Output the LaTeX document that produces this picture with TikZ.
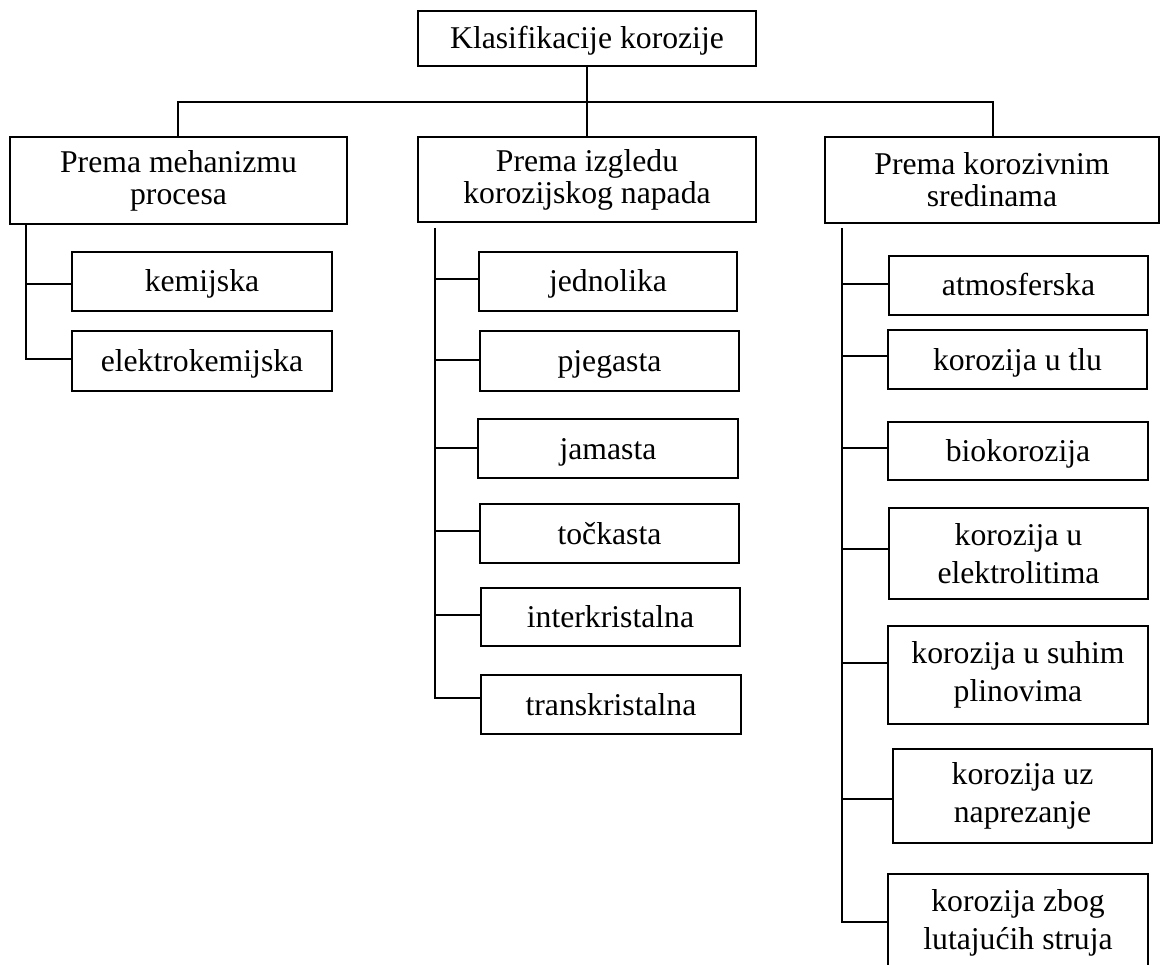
\documentclass[tikz,border=0pt]{standalone}
\usepackage{fontspec}
\setmainfont{Liberation Serif}
\begin{document}
\begin{tikzpicture}[x=1pt,y=-1pt,
  box/.style={draw, line width=1.9pt, inner sep=0pt, align=center,
    font=\fontsize{31.7}{32}\selectfont},
  head/.style={box, line width=2.4pt},
  boxr/.style={box, font=\fontsize{31.7}{38}\selectfont},
  one/.style={text height=22pt, text depth=1pt},
  wire/.style={line width=2.4pt}]
\clip (0,0) rectangle (1161,965);
\useasboundingbox (0,0) rectangle (1161,965);
% top and level 2
\node[head, one, minimum width=338pt, minimum height=55pt] (top) at (587,38.5) {Klasifikacije korozije};
\node[head, minimum width=337pt, minimum height=87pt] (A) at (178.5,180.5) {Prema mehanizmu\\procesa};
\node[head, minimum width=338pt, minimum height=85pt] (B) at (587,179.5) {Prema izgledu\\korozijskog napada};
\node[head, minimum width=334pt, minimum height=86pt] (C) at (992,180) {Prema korozivnim\\sredinama};
% column A
\node[box, one, minimum width=260pt, minimum height=59pt] (kem) at (202,281.5) {kemijska};
\node[box, one, minimum width=260pt, minimum height=60pt] (elk) at (202,361) {elektrokemijska};
% column B
\node[box, one, minimum width=258pt, minimum height=59pt] (jed) at (608,281.5) {jednolika};
\node[box, one, minimum width=259pt, minimum height=60pt] (pje) at (609.5,361) {pjegasta};
\node[box, one, minimum width=260pt, minimum height=59pt] (jam) at (608,448.5) {jamasta};
\node[box, one, minimum width=259pt, minimum height=59pt] (toc) at (609.5,533.5) {točkasta};
\node[box, one, minimum width=259pt, minimum height=58pt] (int) at (610.5,617) {interkristalna};
\node[box, one, minimum width=260pt, minimum height=59pt] (tra) at (611,704.5) {transkristalna};
% column C
\node[box, one, minimum width=259pt, minimum height=59pt] (atm) at (1018.5,285.5) {atmosferska};
\node[box, one, minimum width=259pt, minimum height=59pt] (tlu) at (1017.5,359.5) {korozija u tlu};
\node[box, one, minimum width=260pt, minimum height=58pt] (bio) at (1018,451) {biokorozija};
\node[boxr, minimum width=259pt, minimum height=91pt] (ele) at (1018.5,553.5) {korozija u\\elektrolitima};
\node[boxr, minimum width=260pt, minimum height=98pt] (suh) at (1018,675) {korozija u suhim\\plinovima};
\node[boxr, minimum width=259pt, minimum height=94pt] (uz) at (1022.5,796) {korozija uz\\naprezanje};
\node[boxr, minimum width=260pt, minimum height=98pt] (zb) at (1018,923) {korozija zbog\\lutajućih struja};
% bus
\coordinate (busL) at (178,102);
\coordinate (busR) at (993,102);
\draw[wire] (top.south) -- (B.north);
\draw[wire] (A.north -| busL) -- (busL) -- (busR) -- (C.north -| busR);
% trunks
\coordinate (tA) at (26,359);
\coordinate (tB0) at (435,228);
\coordinate (tB) at (435,698);
\coordinate (tC0) at (842,228);
\coordinate (tC) at (842,922);
\draw[wire] (A.south -| tA) -- (tA) -- (elk.west |- tA);
\draw[wire] (tB0) -- (tB) -- (tra.west |- tB);
\draw[wire] (tC0) -- (tC) -- (zb.west |- tC);
% branches
\draw[wire] (26,284) -- (kem.west |- 0,284);
\draw[wire] (435,279) -- (jed.west |- 0,279);
\draw[wire] (435,360) -- (pje.west |- 0,360);
\draw[wire] (435,448) -- (jam.west |- 0,448);
\draw[wire] (435,531) -- (toc.west |- 0,531);
\draw[wire] (435,615) -- (int.west |- 0,615);
\draw[wire] (842,284) -- (atm.west |- 0,284);
\draw[wire] (842,356) -- (tlu.west |- 0,356);
\draw[wire] (842,448) -- (bio.west |- 0,448);
\draw[wire] (842,549) -- (ele.west |- 0,549);
\draw[wire] (842,663) -- (suh.west |- 0,663);
\draw[wire] (842,799) -- (uz.west |- 0,799);
\end{tikzpicture}
\end{document}
